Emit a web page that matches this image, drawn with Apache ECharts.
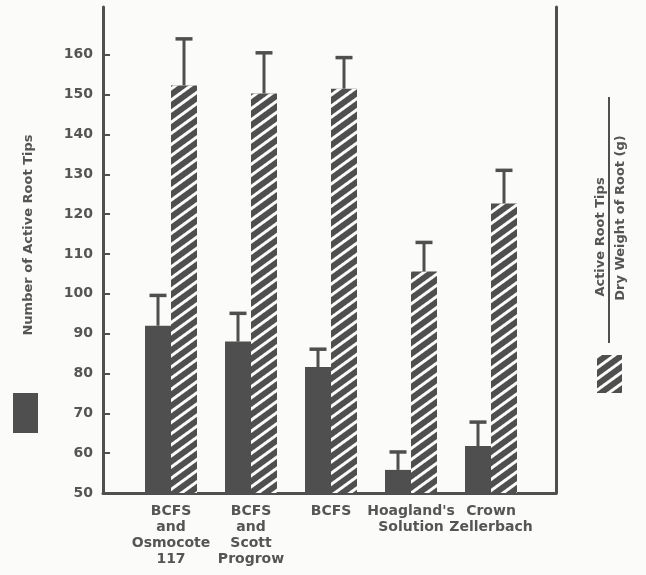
<!DOCTYPE html>
<html>
<head>
<meta charset="utf-8">
<script src="https://cdn.jsdelivr.net/npm/echarts@6/dist/echarts.min.js"></script>
<style>
html,body{margin:0;padding:0;background:#fbfbfa;}
#chart{width:646px;height:575px;}
</style>
</head>
<body>
<div id="chart"></div>
<script>
// treatments
const categories = ['BCFS\nand\nOsmocote\n117', 'BCFS\nand\nScott\nProgrow', 'BCFS', "Hoagland's\nSolution", 'Crown\nZellerbach'];
// number of active root tips (solid) and top of its error bar
const tipCounts = [92, 88, 81.6, 55.8, 61.8];
const tipCountsTop = [99.6, 95.1, 86.1, 60.3, 67.8];
// active root tips / dry weight of root (hatched) and top of its error bar
const tipsPerGram = [152.3, 150.3, 151.5, 105.6, 122.7];
const tipsPerGramTop = [164, 160.5, 159.3, 112.9, 131];
const yTicks = [50, 60, 70, 80, 90, 100, 110, 120, 130, 140, 150, 160];

const ink = '#4f4f4f';
const paper = '#fbfbfa';
const barW = 26;
const font = '"DejaVu Sans", sans-serif';

const chart = echarts.init(document.getElementById('chart'));

function errorBar(offset) {
    return function (params, api) {
        const base = api.coord([api.value(0), api.value(1)]);
        const top = api.coord([api.value(0), api.value(2)]);
        const x = base[0] + offset;
        return {
            type: 'group',
            children: [
                {type: 'line', shape: {x1: x, y1: base[1], x2: x, y2: top[1]}, style: {stroke: ink, lineWidth: 3}},
                {type: 'line', shape: {x1: x - 8.5, y1: top[1], x2: x + 8.5, y2: top[1]}, style: {stroke: ink, lineWidth: 3.5}}
            ]
        };
    };
}

const hatch = {
    color: paper,
    symbol: 'rect',
    symbolSize: 1,
    dashArrayX: [1, 0],
    dashArrayY: [2.5, 5.5],
    rotation: -Math.PI / 5
};

const option = {
    backgroundColor: paper,
    animation: false,
    grid: [
        {left: 103, right: 90, top: 7, bottom: 82},
        {left: 131, right: 115, top: 7, bottom: 82}
    ],
    xAxis: [
        {
            type: 'value', gridIndex: 0, min: 0, max: 1,
            axisLine: {show: true, onZero: false, lineStyle: {color: ink, width: 3}},
            axisTick: {show: false}, axisLabel: {show: false}, splitLine: {show: false}
        },
        {
            type: 'category', gridIndex: 1, data: categories,
            axisLine: {show: false}, axisTick: {show: false},
            axisLabel: {
                interval: 0, margin: 10, color: '#555',
                fontFamily: font, fontWeight: 'bold', fontSize: 14, lineHeight: 16
            }
        }
    ],
    yAxis: [
        {
            type: 'value', gridIndex: 0, min: 50, max: 172,
            axisLine: {show: true, onZero: false, lineStyle: {color: ink, width: 3}},
            axisTick: {show: true, inside: true, length: 7, customValues: yTicks, lineStyle: {color: ink, width: 2}},
            axisLabel: {customValues: yTicks, margin: 10, color: '#555', fontFamily: font, fontWeight: 'bold', fontSize: 14},
            splitLine: {show: false},
            name: 'Number of Active Root Tips',
            nameLocation: 'middle',
            nameGap: 68,
            nameRotate: 90,
            nameTextStyle: {color: '#555', fontFamily: font, fontWeight: 'bold', fontSize: 13, padding: [0, 0, 0, 30]}
        },
        {
            type: 'value', gridIndex: 0, position: 'right', min: 50, max: 172,
            axisLine: {show: true, onZero: false, lineStyle: {color: ink, width: 3}},
            axisTick: {show: false}, axisLabel: {show: false}, splitLine: {show: false}
        },
        {type: 'value', gridIndex: 1, min: 50, max: 172, show: false}
    ],
    legend: [
        {
            data: ['Number of Active Root Tips'], left: 13, top: 393, icon: 'rect', padding: 0,
            itemWidth: 25, itemHeight: 40, selectedMode: false, formatter: () => ''
        },
        {
            data: ['Active Root Tips / Dry Weight of Root (g)'], left: 597, top: 355, icon: 'rect', padding: 0,
            itemWidth: 25, itemHeight: 38, selectedMode: false, formatter: () => ''
        }
    ],
    graphic: [
        {
            type: 'text', x: 601, y: 237, rotation: Math.PI / 2,
            style: {text: 'Active Root Tips', fill: '#555', font: 'bold 13px ' + font, align: 'center', verticalAlign: 'middle'}
        },
        {type: 'line', shape: {x1: 609, y1: 97, x2: 609, y2: 343}, style: {stroke: ink, lineWidth: 2}},
        {
            type: 'text', x: 621, y: 218, rotation: Math.PI / 2,
            style: {text: 'Dry Weight of Root (g)', fill: '#555', font: 'bold 13px ' + font, align: 'center', verticalAlign: 'middle'}
        }
    ],
    series: [
        {
            name: 'Number of Active Root Tips', type: 'bar', xAxisIndex: 1, yAxisIndex: 2,
            data: tipCounts, barWidth: barW, barGap: '0%',
            itemStyle: {color: ink}
        },
        {
            name: 'Active Root Tips / Dry Weight of Root (g)', type: 'bar', xAxisIndex: 1, yAxisIndex: 2,
            data: tipsPerGram, barWidth: barW, barGap: '0%',
            itemStyle: {color: ink, decal: hatch}
        },
        {
            type: 'custom', xAxisIndex: 1, yAxisIndex: 2, encode: {x: 0, y: [1, 2]},
            data: tipCounts.map((v, i) => [i, v, tipCountsTop[i]]),
            renderItem: errorBar(-barW / 2), z: 3
        },
        {
            type: 'custom', xAxisIndex: 1, yAxisIndex: 2, encode: {x: 0, y: [1, 2]},
            data: tipsPerGram.map((v, i) => [i, v, tipsPerGramTop[i]]),
            renderItem: errorBar(barW / 2), z: 3
        }
    ]
};

chart.setOption(option);
</script>
</body>
</html>
